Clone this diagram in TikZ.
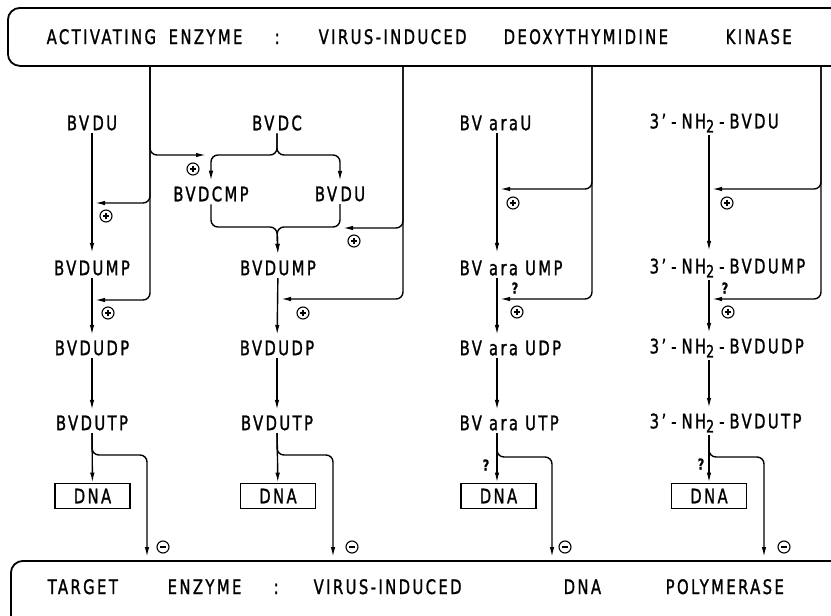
\documentclass[tikz,border=0pt]{standalone}
\usepackage{fontspec}
\setmainfont{DejaVu Sans}[FakeStretch=0.74, LetterSpace=12, FakeBold=1.2]
\usetikzlibrary{arrows.meta}
\newcommand{\subtwo}{\raisebox{-4pt}{\fontsize{17}{17}\selectfont 2}}
\newcommand{\dsh}{\hspace{5pt}-\hspace{5pt}}
\begin{document}
\begin{tikzpicture}[x=1pt,y=-1pt, line width=1.4pt,
  lbl/.style={font=\fontsize{20}{22}\selectfont, inner sep=2pt},
  lblw/.style={lbl, anchor=west},
  word/.style={font=\fontsize{20}{22}\selectfont, inner sep=0pt, anchor=base west},
  arr/.style={-{Latex[length=10pt,width=4.5pt]}},
  bar/.style={draw, line width=1.8pt, rounded corners=12pt, minimum width=860pt, anchor=north west, inner sep=0pt},
  dna/.style={draw, line width=1.8pt, minimum width=75pt, minimum height=25pt, inner sep=0pt, font=\fontsize{20}{22}\selectfont},
  pcirc/.style={circle, draw, line width=1.1pt, minimum size=12pt, inner sep=0pt,
    path picture={\draw[line width=1.6pt] ([xshift=-3pt]path picture bounding box.center) -- ([xshift=3pt]path picture bounding box.center)
      ([yshift=-3pt]path picture bounding box.center) -- ([yshift=3pt]path picture bounding box.center);}},
  mcirc/.style={circle, draw, line width=1.1pt, minimum size=12pt, inner sep=0pt,
    path picture={\draw[line width=1.6pt] ([xshift=-3pt]path picture bounding box.center) -- ([xshift=3pt]path picture bounding box.center);}},
  qm/.style={font=\fontsize{15}{15}\selectfont\bfseries, inner sep=0pt}
]
\useasboundingbox (0,0) rectangle (831,616);
\clip (0,0) rectangle (831,616);

% banners
\node[bar, minimum height=58pt] (topbar) at (7,7) {};
\node[bar, minimum height=70pt] (botbar) at (10,560) {};

\node[word] (t1) at (46,44) {ACTIVATING};
\node[word] (t2) at (168,44) {ENZYME};
\node[word] (t3) at (274,44) {:};
\node[word] (t4) at (318,44) {VIRUS-INDUCED};
\node[word] (t5) at (503,44) {DEOXYTHYMIDINE};
\node[word] (t6) at (725,44) {KINASE};

\node[word] (u1) at (47,594) {TARGET};
\node[word] (u2) at (167,594) {ENZYME};
\node[word] (u3) at (273,594) {:};
\node[word] (u4) at (313,594) {VIRUS-INDUCED};
\node[word] (u5) at (563,594) {DNA};
\node[word] (u6) at (665,594) {POLYMERASE};

% column 1
\node[lbl] (a1) at (92,123) {BV\,DU};
\node[lbl] (a2) at (92,268) {BVDUMP};
\node[lbl] (a3) at (92,348) {BVDUDP};
\node[lbl] (a4) at (92,423) {BVDUTP};
\node[dna] (a5) at (92.5,496) {DNA};

% column 2
\node[lbl] (b1) at (277,123) {BV\,DC};
\node[lbl] (bL) at (211,194) {BVDCMP};
\node[lbl] (bR) at (340,194) {BV\,DU};
\node[lbl] (b2) at (278,268) {BVDUMP};
\node[lbl] (b3) at (277,348) {BVDUDP};
\node[lbl] (b4) at (277,423) {BVDUTP};
\node[dna] (b5) at (278,496) {DNA};

% column 3
\coordinate (x3) at (497,0);
\node[lblw] (c1) at (457,123) {BV araU};
\node[lblw] (c2) at (457,268) {BV ara UMP};
\node[lblw] (c3) at (457,348) {BV ara UDP};
\node[lblw] (c4) at (457,423) {BV ara UTP};
\node[dna] (c5) at (498.5,496) {DNA};

% column 4
\coordinate (x4) at (709,0);
\node[lblw] (d1) at (647,123) {3’\dsh NH\subtwo\dsh BVDU};
\node[lblw] (d2) at (647,268) {3’\dsh NH\subtwo\dsh BVDUMP};
\node[lblw] (d3) at (647,348) {3’\dsh NH\subtwo\dsh BVDUDP};
\node[lblw] (d4) at (647,423) {3’\dsh NH\subtwo\dsh BVDUTP};
\node[dna] (d5) at (709,496) {DNA};

% main chain arrows
\draw[arr, shorten >=5pt] (a1) -- (a2);
\draw[arr, shorten >=3pt] (a2) -- (a3);
\draw[arr, shorten >=3pt] (a3) -- (a4);
\draw[arr] (a4) -- (a5);

\coordinate (br) at (277,155);
\coordinate (bm) at (277,227);
\draw[arr, rounded corners=7pt, shorten >=3pt] (b1.south) -- (br) -| (bL.north);
\draw[arr, rounded corners=7pt, shorten >=3pt] (b1.south) -- (br) -| (bR.north);
\draw[arr, rounded corners=7pt, shorten >=4pt] (bL.south) |- (bm) -- (b2.north);
\draw[arr, rounded corners=7pt, shorten >=4pt] (bR.south) |- (bm) -- (b2.north);
\draw[arr, shorten >=3pt] (b2) -- (b3);
\draw[arr, shorten >=3pt] (b3) -- (b4);
\draw[arr] (b4) -- (b5);

\draw[arr, shorten >=5pt] (c1.south -| x3) -- (c2.north -| x3);
\draw[arr, shorten >=3pt] (c2.south -| x3) -- (c3.north -| x3);
\draw[arr, shorten >=3pt] (c3.south -| x3) -- (c4.north -| x3);
\draw[arr] (c4.south -| x3) -- (c5.north -| x3);

\draw[arr, shorten >=5pt] (d1.south -| x4) -- (d2.north -| x4);
\draw[arr, shorten >=3pt] (d2.south -| x4) -- (d3.north -| x4);
\draw[arr, shorten >=3pt] (d3.south -| x4) -- (d4.north -| x4);
\draw[arr] (d4.south -| x4) -- (d5.north -| x4);

% activating enzyme lines
\coordinate (e1) at (150,65);
\coordinate (e2) at (403,65);
\coordinate (e3) at (592,65);
\coordinate (e4) at (821,65);
\coordinate (k0) at (206,155);
\coordinate (k1) at (95,203);
\coordinate (k2) at (95,300);
\coordinate (k3) at (343,228);
\coordinate (k4) at (281,299);
\coordinate (k5) at (500,189);
\coordinate (k6) at (500,299);
\coordinate (k7) at (712,189);
\coordinate (k8) at (712,299);
\draw[arr, rounded corners=7pt] (e1) |- (k0);
\draw[arr, rounded corners=7pt] (e1) |- (k1);
\draw[arr, rounded corners=7pt] (e1) |- (k2);
\draw[arr, rounded corners=7pt] (e2) |- (k3);
\draw[arr, rounded corners=7pt] (e2) |- (k4);
\draw[arr, rounded corners=7pt] (e3) |- (k5);
\draw[arr, rounded corners=7pt] (e3) |- (k6);
\draw[arr, rounded corners=7pt] (e4) |- (k7);
\draw[arr, rounded corners=7pt] (e4) |- (k8);

% target enzyme lines
\coordinate (m1) at (147,455);
\coordinate (m2) at (333,455);
\coordinate (m3) at (552,457);
\coordinate (m4) at (764,457);
\draw[arr, rounded corners=7pt, shorten >=3pt] (a4.south) |- (m1) -- (m1 |- botbar.north);
\draw[arr, rounded corners=7pt, shorten >=3pt] (b4.south) |- (m2) -- (m2 |- botbar.north);
\draw[arr, rounded corners=7pt, shorten >=3pt] (c4.south -| x3) |- (m3) -- (m3 |- botbar.north);
\draw[arr, rounded corners=7pt, shorten >=3pt] (d4.south -| x4) |- (m4) -- (m4 |- botbar.north);

% plus signs
\node[pcirc] (p0) at (193,169) {};
\node[pcirc] (p1) at (106,216) {};
\node[pcirc] (p2) at (108,313) {};
\node[pcirc] (p3) at (354,241) {};
\node[pcirc] (p4) at (303,313) {};
\node[pcirc] (p5) at (513,203) {};
\node[pcirc] (p6) at (517,312) {};
\node[pcirc] (p7) at (727,203) {};
\node[pcirc] (p8) at (728,312) {};

% minus signs
\node[mcirc] (n1) at (163,547) {};
\node[mcirc] (n2) at (352,547) {};
\node[mcirc] (n3) at (565,547) {};
\node[mcirc] (n4) at (784,547) {};

% question marks
\node[qm] (q1) at (515,288) {?};
\node[qm] (q2) at (725,288) {?};
\node[qm] (q3) at (486,465) {?};
\node[qm] (q4) at (701,464) {?};
\end{tikzpicture}
\end{document}
